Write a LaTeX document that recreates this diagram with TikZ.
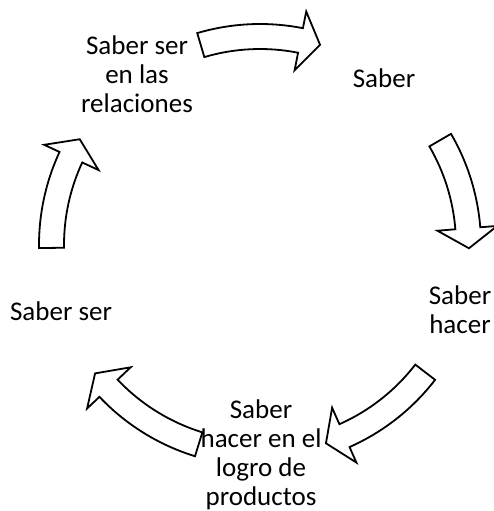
\documentclass[tikz,border=0pt]{standalone}
\usepackage{fontspec}
\setmainfont{Carlito}

\newcommand{\cyclearrow}[2]{%
  \pgfmathsetmacro{\headbase}{#2+5.5}
  \draw[block arrow] (#1:221) arc[start angle = #1, end angle = \headbase, radius = 221]
    -- (\headbase:238) -- (#2:209) -- (\headbase:178) -- (\headbase:196)
    arc[start angle = \headbase, end angle = #1, radius = 196] -- cycle;
}

\begin{document}
\begin{tikzpicture}[
  x = 1pt, y = 1pt,
  every node/.style = {align = center, inner sep = 0pt, font = \fontsize{27}{29}\selectfont},
  block arrow/.style = {draw, line width = 1.8pt, line join = miter, fill = white},
  ]
  \useasboundingbox (0,0) rectangle (494,511);

  \node (relaciones) at (137,437) {Saber ser\\en las\\relaciones};
  \node (saber)      at (384,433) {Saber};
  \node (hacer)      at (460,201) {Saber\\hacer};
  \node (logro)      at (261,56)  {Saber\\hacer en el\\logro de\\productos};
  \node (ser)        at (61,200)  {Saber ser};

  \begin{scope}[shift = {(260,266)}]
    \cyclearrow{106.5}{73.3}
    \cyclearrow{30.2}{-0.9}
    \cyclearrow{-37.6}{-71.6}
    \cyclearrow{-107.1}{-142.1}
    \cyclearrow{180.8}{149.6}
  \end{scope}
\end{tikzpicture}
\end{document}
